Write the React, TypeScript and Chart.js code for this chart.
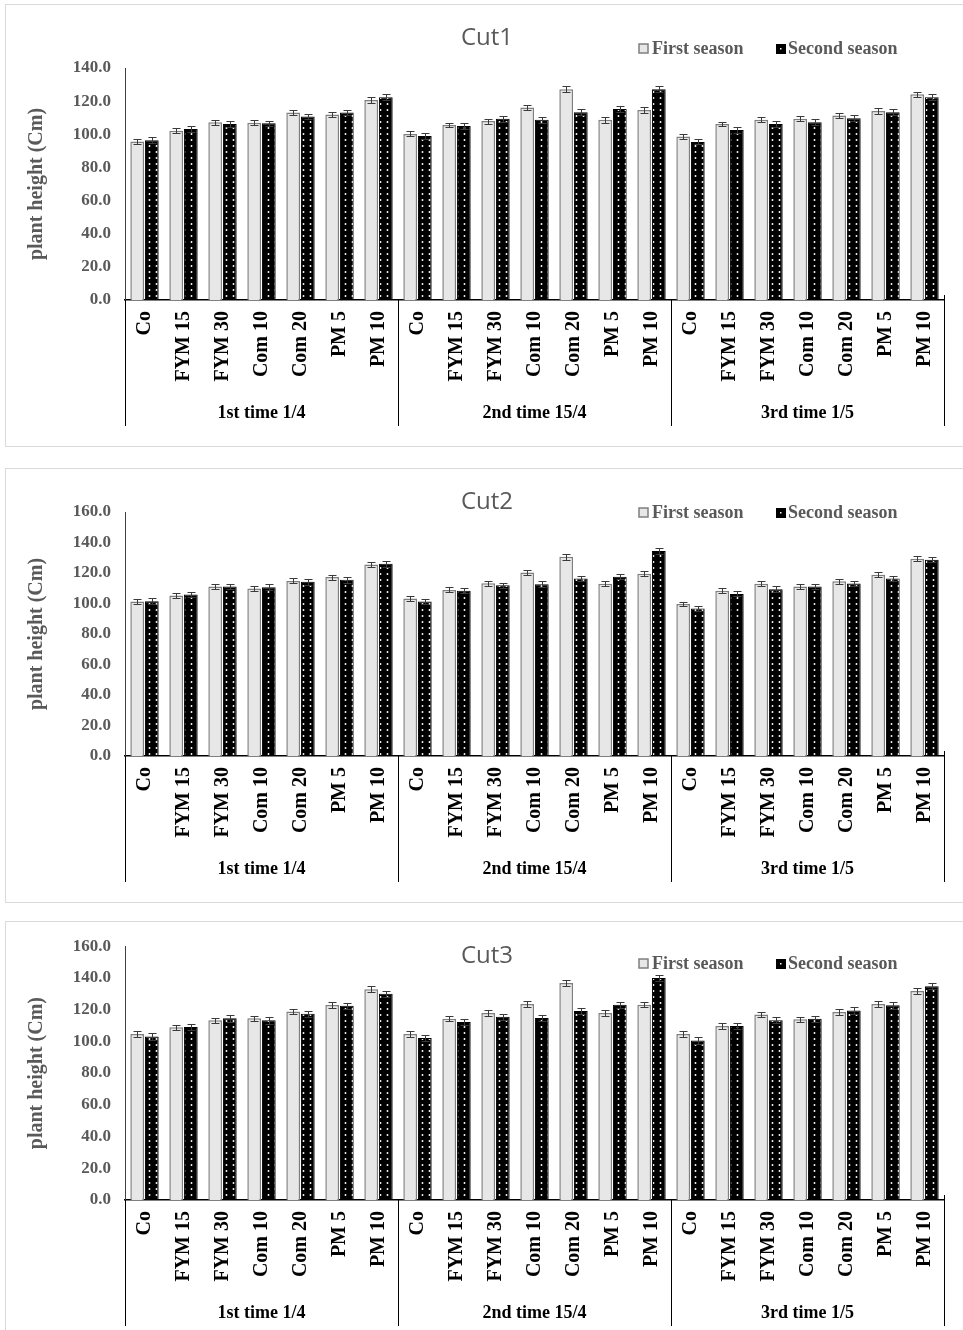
import React, { useEffect, useRef } from "react";
import { Chart, registerables } from "chart.js";

Chart.register(...registerables);

const categories = ["Co", "FYM 15", "FYM 30", "Com 10", "Com 20", "PM 5", "PM 10"];
const groups = ["1st time 1/4", "2nd time 15/4", "3rd time 1/5"];
const seriesNames = ["First season", "Second season"];
const yTitle = "plant height (Cm)";

const cut1First = [95.6, 102.2, 107.2, 107.0, 113.1, 111.9, 120.7, 100.2, 105.6, 108.0, 116.1, 127.2, 108.7, 114.7, 98.6, 106.2, 108.7, 109.3, 111.3, 114.1, 124.1];
const cut1Second = [96.4, 103.2, 106.2, 106.6, 110.7, 113.1, 122.3, 99.0, 105.0, 109.3, 108.7, 113.3, 115.3, 127.2, 95.4, 102.6, 106.2, 107.2, 109.7, 113.3, 122.3];
const cut1FirstErr = [1.5, 1.6, 1.5, 1.5, 1.6, 1.5, 1.6, 1.5, 1.4, 1.5, 1.7, 1.7, 1.6, 1.6, 1.5, 1.5, 1.5, 1.5, 1.6, 1.6, 1.6];
const cut1SecondErr = [1.7, 1.8, 1.7, 1.7, 1.7, 1.7, 1.8, 1.7, 1.8, 1.7, 1.7, 1.8, 1.6, 1.7, 1.5, 1.7, 1.7, 1.8, 1.8, 1.8, 1.8];

const cut2First = [101.3, 105.2, 111.1, 109.8, 114.8, 117.3, 125.6, 103.2, 108.9, 113.3, 120.3, 130.6, 112.9, 119.5, 99.7, 108.3, 112.9, 111.1, 114.6, 118.8, 129.3];
const cut2Second = [101.5, 105.9, 111.1, 110.7, 114.2, 115.5, 126.0, 101.3, 108.3, 112.0, 112.7, 116.4, 117.5, 134.4, 96.7, 106.3, 109.4, 111.1, 113.1, 116.4, 128.7];
const cut2FirstErr = [1.6, 1.7, 1.7, 1.6, 1.6, 1.7, 1.7, 1.6, 1.6, 1.6, 1.7, 1.8, 1.6, 1.7, 1.6, 1.6, 1.7, 1.6, 1.7, 1.7, 1.7];
const cut2SecondErr = [1.8, 1.9, 1.9, 1.9, 1.8, 1.9, 1.9, 1.8, 1.7, 1.7, 1.8, 1.8, 1.7, 1.8, 1.8, 1.7, 1.8, 1.9, 1.9, 1.9, 1.8];

const cut3First = [104.7, 108.9, 113.3, 114.5, 118.9, 122.9, 132.9, 104.7, 114.3, 117.9, 123.5, 136.8, 117.9, 123.1, 104.7, 109.7, 117.0, 113.9, 118.5, 123.5, 131.8];
const cut3Second = [103.0, 109.1, 114.5, 113.3, 117.4, 122.4, 130.0, 102.2, 112.2, 115.6, 114.7, 119.1, 123.1, 140.0, 100.5, 109.7, 113.3, 114.3, 119.5, 122.7, 134.8];
const cut3FirstErr = [1.7, 1.7, 1.7, 1.7, 1.7, 1.8, 1.8, 1.7, 1.7, 1.7, 1.8, 1.8, 1.7, 1.7, 1.7, 1.7, 1.7, 1.7, 1.7, 1.8, 1.8];
const cut3SecondErr = [2.0, 2.0, 2.0, 2.1, 2.0, 2.1, 2.0, 1.9, 1.9, 1.9, 2.0, 2.0, 1.9, 2.0, 2.0, 2.0, 2.0, 2.0, 2.0, 2.1, 2.0];

const xLabels: string[] = groups.flatMap(() => categories);

const SERIF = "'Liberation Serif', 'Times New Roman', serif";
const SANS = "'Open Sans', 'Noto Sans', sans-serif";

function makeDotPattern(ctx: CanvasRenderingContext2D): CanvasPattern | string {
  const c = document.createElement("canvas");
  c.width = 7;
  c.height = 6;
  const p = c.getContext("2d")!;
  p.fillStyle = "#000";
  p.fillRect(0, 0, 7, 6);
  p.fillStyle = "#fff";
  p.beginPath();
  p.arc(3.5, 3, 0.95, 0, Math.PI * 2);
  p.fill();
  return ctx.createPattern(c, "repeat") || "#000";
}

type PanelProps = {
  title: string;
  first: number[];
  second: number[];
  firstErr: number[];
  secondErr: number[];
  yMax: number;
  top: number;
  height: number;
  padTop: number;
  xAxisHeight: number;
  titleY: number;
  legendY: number;
  bottomBorder: boolean;
};

function CutChart(props: PanelProps) {
  const ref = useRef<HTMLCanvasElement>(null);
  const canvasH = props.height - (props.bottomBorder ? 2 : 1);

  useEffect(() => {
    const canvas = ref.current!;
    const ctx = canvas.getContext("2d")!;
    const pattern = makeDotPattern(ctx);

    const errorBars = {
      id: "errorBars",
      afterDatasetsDraw(chart: any) {
        const y = chart.scales.y;
        const c = chart.ctx;
        c.save();
        c.strokeStyle = "#3a3a3a";
        c.lineWidth = 1;
        chart.data.datasets.forEach((ds: any, i: number) => {
          const meta = chart.getDatasetMeta(i);
          meta.data.forEach((el: any, j: number) => {
            const v = ds.data[j];
            const e = ds.errors[j];
            const x = Math.round(el.x) + 0.5;
            const yh = Math.round(y.getPixelForValue(v + e)) + 0.5;
            const yl = Math.round(y.getPixelForValue(v - e)) + 0.5;
            c.beginPath();
            c.moveTo(x, yh);
            c.lineTo(x, yl);
            c.moveTo(x - 4, yh);
            c.lineTo(x + 4, yh);
            c.moveTo(x - 4, yl);
            c.lineTo(x + 4, yl);
            c.stroke();
          });
        });
        c.restore();
      },
    };

    const decor = {
      id: "decor",
      afterDraw(chart: any) {
        const c = chart.ctx;
        const xs = chart.scales.x;
        const area = chart.chartArea;
        c.save();
        // title
        c.fillStyle = "#595959";
        c.font = `24px ${SANS}`;
        c.textAlign = "center";
        c.textBaseline = "middle";
        c.fillText(props.title, 481, props.titleY);

        // legend
        c.font = `bold 18px ${SERIF}`;
        c.textAlign = "left";
        c.fillStyle = "#e7e7e7";
        c.fillRect(633, props.legendY - 5, 9, 9);
        c.strokeStyle = "#7f7f7f";
        c.lineWidth = 1.5;
        c.strokeRect(633, props.legendY - 5, 9, 9);
        c.fillStyle = "#595959";
        c.fillText(seriesNames[0], 646, props.legendY);
        c.fillStyle = "#000";
        c.fillRect(770, props.legendY - 5, 10, 10);
        c.fillStyle = "#fff";
        c.fillRect(774, props.legendY - 1, 1.5, 1.5);
        c.fillStyle = "#595959";
        c.fillText(seriesNames[1], 782, props.legendY);

        // group dividers and labels
        const n = categories.length;
        const bounds: number[] = [area.left];
        for (let g = 1; g < groups.length; g++) {
          bounds.push((xs.getPixelForValue(g * n - 1) + xs.getPixelForValue(g * n)) / 2);
        }
        bounds.push(area.right);
        c.strokeStyle = "#000";
        c.lineWidth = 1;
        bounds.forEach((b, k) => {
          const bx = Math.round(b) + 0.5;
          c.beginPath();
          c.moveTo(bx, k === bounds.length - 1 ? area.bottom - 5 : area.bottom);
          c.lineTo(bx, area.bottom + 126);
          c.stroke();
        });
        c.fillStyle = "#000";
        c.font = `bold 18px ${SERIF}`;
        c.textAlign = "center";
        groups.forEach((g, k) => {
          c.fillText(g, (bounds[k] + bounds[k + 1]) / 2, area.bottom + 113);
        });
        c.restore();
      },
    };

    const chart = new Chart(ctx, {
      type: "bar",
      data: {
        labels: xLabels,
        datasets: [
          {
            label: seriesNames[0],
            data: props.first,
            errors: props.firstErr,
            backgroundColor: "#e7e7e7",
            borderColor: "#7f7f7f",
            borderWidth: 1.5,
            categoryPercentage: 0.75,
            barPercentage: 0.94,
          } as any,
          {
            label: seriesNames[1],
            data: props.second,
            errors: props.secondErr,
            backgroundColor: pattern as any,
            borderColor: "#000",
            borderWidth: 1,
            categoryPercentage: 0.75,
            barPercentage: 0.94,
          } as any,
        ],
      },
      options: {
        responsive: false,
        animation: false,
        layout: { padding: { top: props.padTop, right: 19, left: 0, bottom: 0 } },
        plugins: {
          legend: { display: false },
          title: { display: false },
          tooltip: { enabled: false },
        },
        scales: {
          x: {
            grid: { display: false, drawTicks: false },
            border: { color: "#000", width: 1.5 },
            ticks: {
              autoSkip: false,
              maxRotation: 90,
              minRotation: 90,
              padding: 11,
              color: "#000",
              font: { family: SERIF, weight: "bold", size: 20 },
            },
            afterFit: (s: any) => {
              s.height = props.xAxisHeight;
            },
          },
          y: {
            min: 0,
            max: props.yMax,
            grid: { display: false, drawTicks: false },
            border: { color: "#404040", width: 1 },
            ticks: {
              stepSize: 20,
              padding: 14,
              color: "#595959",
              font: { family: SERIF, weight: "bold", size: 17 },
              callback: (v: any) => Number(v).toFixed(1),
            },
            title: {
              display: true,
              text: yTitle,
              color: "#595959",
              font: { family: SERIF, weight: "bold", size: 20 },
              padding: { top: 19, bottom: 0 },
            },
            afterFit: (s: any) => {
              s.width = 119;
            },
          },
        },
      } as any,
      plugins: [errorBars, decor],
    });
    return () => chart.destroy();
  }, []);

  return (
    <div
      style={{
        position: "absolute",
        left: 5,
        top: props.top,
        width: 958,
        height: props.height,
        boxSizing: "border-box",
        border: "1px solid #d9d9d9",
        borderBottom: props.bottomBorder ? "1px solid #d9d9d9" : "none",
        borderRight: "none",
        background: "#fff",
      }}
    >
      <canvas ref={ref} width={957} height={canvasH} style={{ display: "block" }} />
    </div>
  );
}

export default function App() {
  return (
    <div>
      <CutChart
        title="Cut1"
        first={cut1First}
        second={cut1Second}
        firstErr={cut1FirstErr}
        secondErr={cut1SecondErr}
        yMax={140}
        top={4}
        height={443}
        padTop={63}
        xAxisHeight={146}
        titleY={33}
        legendY={44}
        bottomBorder={true}
      />
      <CutChart
        title="Cut2"
        first={cut2First}
        second={cut2Second}
        firstErr={cut2FirstErr}
        secondErr={cut2SecondErr}
        yMax={160}
        top={468}
        height={435}
        padTop={43}
        xAxisHeight={146}
        titleY={33}
        legendY={44}
        bottomBorder={true}
      />
      <CutChart
        title="Cut3"
        first={cut3First}
        second={cut3Second}
        firstErr={cut3FirstErr}
        secondErr={cut3SecondErr}
        yMax={160}
        top={921}
        height={409}
        padTop={22}
        xAxisHeight={130}
        titleY={34}
        legendY={42}
        bottomBorder={false}
      />
    </div>
  );
}
